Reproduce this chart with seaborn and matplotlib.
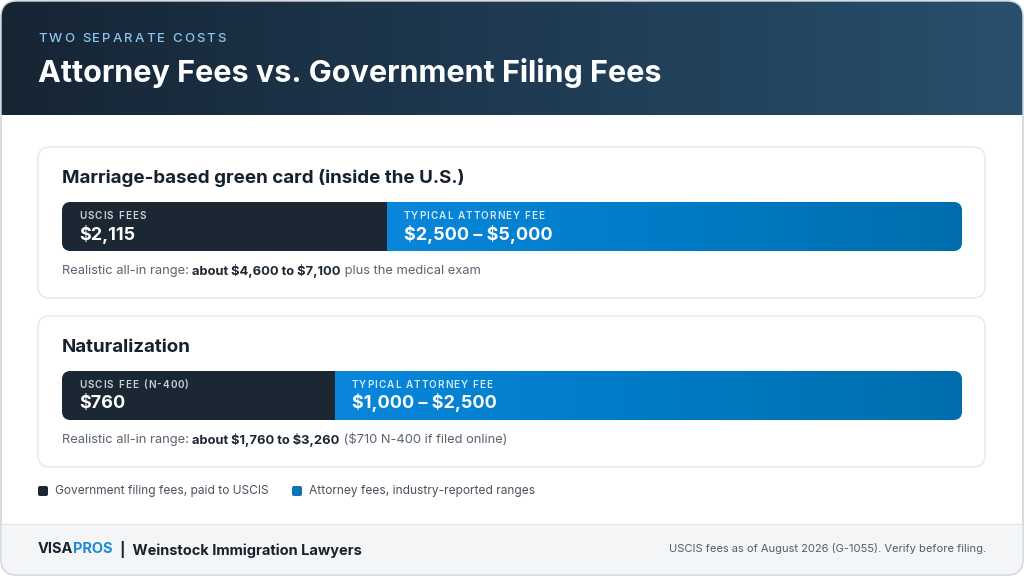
"""
Attorney fees vs. government filing fees - two stacked cost bars.
"""

import numpy as np
import matplotlib.pyplot as plt
import seaborn as sns
from matplotlib.patches import FancyBboxPatch, Rectangle
from matplotlib.transforms import Affine2D

# ---- data ----
categories = ["Marriage-based green card (inside the U.S.)", "Naturalization"]
uscis_labels = ["USCIS FEES", "USCIS FEE (N-400)"]
uscis_fee = [2115, 760]
attorney_low = [2500, 1000]
attorney_high = [5000, 2500]
all_in_low = [4600, 1760]
all_in_high = [7100, 3260]
note_suffix = ["plus the medical exam", "($710 N-400 if filed online)"]
legend_labels = ["Government filing fees, paid to USCIS", "Attorney fees, industry-reported ranges"]

DARK = "#1b2833"
BLUE_L = "#0a87db"
BLUE_R = "#006ead"
W, H = 1024, 576

sns.set_theme(style="white")
plt.rcParams["font.family"] = ["Inter", "DejaVu Sans"]

fig = plt.figure(figsize=(W / 100, H / 100), dpi=100)
fig.patch.set_facecolor("white")
renderer = fig.canvas.get_renderer()
px = Affine2D().scale(1 / W, -1 / H).translate(0, 1) + fig.transFigure

bg = fig.add_axes([0, 0, 1, 1])
bg.set_xlim(0, W)
bg.set_ylim(H, 0)
bg.axis("off")


def text(x, y, s, **kw):
    kw.setdefault("va", "center")
    return fig.text(x, y, s, transform=px, parse_math=False, **kw)


def width(s, **kw):
    t = text(0, 0, s, **kw)
    w = t.get_window_extent(renderer).width
    t.remove()
    return w


def runs(x, y, parts, size):
    """Draw consecutive text runs [(text, color, weight), ...] starting at pixel x."""
    for s, color, weight in parts:
        text(x, y, s, fontsize=size, color=color, fontweight=weight)
        x += width(s, fontsize=size, fontweight=weight)
    return x


def spaced(x, y, s, size, color, weight="semibold", gap=1.2):
    """Letter-spaced caps text."""
    for ch in s:
        if ch == " ":
            x += size * 0.42 + gap
            continue
        t = text(x, y, ch, fontsize=size, color=color, fontweight=weight)
        x += t.get_window_extent(renderer).width + gap
    return x


# outer card
card = FancyBboxPatch((1, 1), W - 2, H - 2, boxstyle="round,pad=0,rounding_size=16",
                      fc="white", ec="#d5d9de", lw=1, zorder=0)
bg.add_patch(card)

# header gradient
grad = np.linspace(0, 1, 256).reshape(1, -1)
hdr = bg.imshow(grad, extent=[0, W, 115, 0], aspect="auto", zorder=1,
                cmap=sns.blend_palette(["#162534", "#1f3a52", "#28506d"], as_cmap=True))
hdr.set_clip_path(card)

# footer
foot = Rectangle((0, 524), W, 52, fc="#f4f5f7", ec="none", zorder=1)
bg.add_patch(foot)
foot.set_clip_path(card)
bg.plot([1, W - 1], [524, 524], color="#e3e6ea", lw=1, zorder=2)
bg.add_patch(FancyBboxPatch((1, 1), W - 2, H - 2, boxstyle="round,pad=0,rounding_size=16",
                            fc="none", ec="#d5d9de", lw=1, zorder=3))

# header text
spaced(38, 39, "TWO SEPARATE COSTS", 9.5, "#8cc4ec", weight="medium", gap=2.0)
text(38, 73, "Attorney Fees vs. Government Filing Fees", fontsize=22,
     fontweight="bold", color="white")

card_tops = [147, 316]
for i, cat in enumerate(categories):
    top = card_tops[i]
    bg.add_patch(FancyBboxPatch((38, top), 947, 151, boxstyle="round,pad=0,rounding_size=12",
                                fc="white", ec="#e4e7eb", lw=1, zorder=2))
    text(62, top + 31, cat, fontsize=13.5, fontweight="bold", color="#16222d")

    mid = (attorney_low[i] + attorney_high[i]) / 2
    total = uscis_fee[i] + mid
    bar_top = top + 55
    ax = fig.add_axes([62 / W, 1 - (bar_top + 49) / H, 900 / W, 49 / H])
    sns.barplot(x=[total], y=[""], orient="h", color=BLUE_L, width=1,
                saturation=1, linewidth=0, ax=ax)
    sns.barplot(x=[uscis_fee[i]], y=[""], orient="h", color=DARK, width=1,
                saturation=1, linewidth=0, ax=ax)
    ax.set_xlim(0, total)
    ax.set_ylim(0.5, -0.5)
    ax.axis("off")
    clip = FancyBboxPatch((62, bar_top), 900, 49, boxstyle="round,pad=0,rounding_size=9",
                          transform=bg.transData, fc="none", ec="none")
    for p in ax.patches:
        p.set_clip_path(clip)
    g = ax.imshow(grad, extent=[uscis_fee[i], total, 0.5, -0.5], aspect="auto",
                  cmap=sns.blend_palette([BLUE_L, "#007bc6", BLUE_R], as_cmap=True),
                  zorder=3)
    g.set_clip_path(clip)
    ax.set_xlim(0, total)
    ax.set_ylim(0.5, -0.5)

    split = 62 + 900 * uscis_fee[i] / total
    spaced(79, bar_top + 14, uscis_labels[i], 7.2, "#c9d0d7", gap=1.0)
    text(79, bar_top + 32, f"${uscis_fee[i]:,}", fontsize=13,
         fontweight="bold", color="white")
    spaced(split + 17, bar_top + 14, "TYPICAL ATTORNEY FEE", 7.2, "#d2eafb", gap=1.0)
    text(split + 17, bar_top + 32, f"${attorney_low[i]:,} \u2013 ${attorney_high[i]:,}",
         fontsize=13, fontweight="bold", color="white")

    runs(62, top + 124, [("Realistic all-in range: ", "#5b6470", "normal"),
                         (f"about ${all_in_low[i]:,} to ${all_in_high[i]:,}", "#1c2630", "bold"),
                         (" " + note_suffix[i], "#5b6470", "normal")], 9.3)

# legend
for (lx, col, lab) in [(38, DARK, legend_labels[0]), (292, "#0a74b8", legend_labels[1])]:
    bg.add_patch(FancyBboxPatch((lx, 486), 10, 10, boxstyle="round,pad=0,rounding_size=2",
                                fc=col, ec="none", zorder=3))
    text(lx + 17, 491, lab, fontsize=8.6, color="#4a525c")

# footer brand: measure kerned offsets from the whole string
fs = 10.5
text(38, 549, "VISA", fontsize=fs, fontweight="bold", color="#16222d")
w_visa = width("VISAPROS", fontsize=fs, fontweight="bold") - width("PROS", fontsize=fs, fontweight="bold")
text(38 + w_visa, 549, "PROS", fontsize=fs, fontweight="bold", color="#1a8ad6")
x_end = 38 + width("VISAPROS", fontsize=fs, fontweight="bold")
text(x_end, 549, "  |  Weinstock Immigration Lawyers", fontsize=fs,
     fontweight="bold", color="#16222d")
text(986, 549, "USCIS fees as of August 2026 (G-1055). Verify before filing.",
     fontsize=8, color="#555d66", ha="right")

fig.savefig("out.png", dpi=100, facecolor="white")
